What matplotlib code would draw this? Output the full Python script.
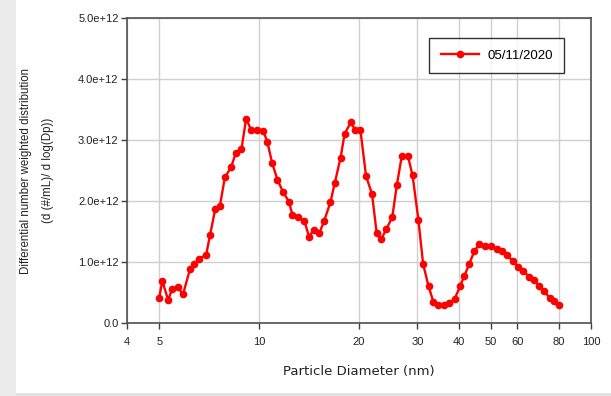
import matplotlib
matplotlib.use("Agg")
import matplotlib.pyplot as plt
from matplotlib.patches import Rectangle
from matplotlib.ticker import FixedLocator, FixedFormatter, NullLocator

plt.rcParams['font.family'] = ['Liberation Sans', 'DejaVu Sans']

diameter_nm = [5.0, 5.11, 5.32, 5.47, 5.68, 5.90, 6.19, 6.38, 6.59, 6.93,
               7.12, 7.38, 7.62, 7.89, 8.23, 8.50, 8.85, 9.14, 9.47, 9.84,
               10.3, 10.6, 10.95, 11.36, 11.8, 12.3, 12.6, 13.1, 13.7, 14.15,
               14.6, 15.2, 15.7, 16.4, 16.9, 17.6, 18.1, 18.9, 19.5, 20.2,
               21.0, 21.9, 22.6, 23.3, 24.2, 25.2, 26.0, 26.9, 28.1, 29.0,
               30.2, 31.2, 32.4, 33.5, 34.6, 36.1, 37.4, 38.8, 40.3, 41.5,
               43.0, 44.5, 46.1, 48.0, 50.1, 52.0, 53.9, 55.9, 58.1, 60.2,
               62.6, 64.9, 67.2, 69.7, 72.4, 75.0, 77.6, 80.3]
distribution_e12 = [0.41, 0.69, 0.38, 0.55, 0.59, 0.47, 0.88, 0.97, 1.05, 1.12,
                    1.45, 1.87, 1.92, 2.39, 2.55, 2.78, 2.85, 3.35, 3.16, 3.16,
                    3.15, 2.96, 2.62, 2.35, 2.15, 1.99, 1.77, 1.73, 1.67, 1.41,
                    1.53, 1.48, 1.67, 1.98, 2.29, 2.71, 3.10, 3.29, 3.16, 3.16,
                    2.41, 2.11, 1.48, 1.37, 1.54, 1.74, 2.26, 2.73, 2.73, 2.42,
                    1.69, 0.97, 0.60, 0.35, 0.30, 0.30, 0.33, 0.39, 0.60, 0.77,
                    0.97, 1.18, 1.29, 1.26, 1.26, 1.22, 1.18, 1.11, 1.02, 0.92,
                    0.86, 0.76, 0.71, 0.61, 0.52, 0.41, 0.36, 0.30]
series_label = "05/11/2020"

x_ticks = [4, 5, 10, 20, 30, 40, 50, 60, 80, 100]
x_tick_labels = ["4", "5", "10", "20", "30", "40", "50", "60", "80", "100"]
y_ticks = [0, 1e12, 2e12, 3e12, 4e12, 5e12]
y_tick_labels = ["0.0", "1.0e+12", "2.0e+12", "3.0e+12", "4.0e+12", "5.0e+12"]

fig = plt.figure(figsize=(6.11, 3.96), dpi=100, facecolor='#ebebeb')
fig.patches.append(Rectangle((16/611, 0.0), 1 - 16/611, 1.0,
                             transform=fig.transFigure, facecolor='white',
                             edgecolor='none', zorder=-1))
fig.patches.append(Rectangle((16/611, 0.0), 1 - 16/611, 3/396,
                             transform=fig.transFigure, facecolor='#e2e2e2',
                             edgecolor='none', zorder=-1))
ax = fig.add_axes([127/611, 1 - 323/396, 464/611, 305/396])
ax.set_facecolor('white')

yvals = [v * 1e12 for v in distribution_e12]
ax.plot(diameter_nm, yvals, color='#ff0000', linewidth=1.7, marker='o',
        markersize=4.5, markeredgecolor='#ff0000', label=series_label, zorder=3)

ax.set_xscale('log')
ax.set_xlim(4, 100)
ax.set_ylim(0, 5e12)
ax.xaxis.set_major_locator(FixedLocator(x_ticks))
ax.xaxis.set_major_formatter(FixedFormatter(x_tick_labels))
ax.xaxis.set_minor_locator(NullLocator())
ax.yaxis.set_major_locator(FixedLocator(y_ticks))
ax.yaxis.set_major_formatter(FixedFormatter(y_tick_labels))

ax.grid(True, color='#d0d0d0', linewidth=1.0)
ax.set_axisbelow(True)
for s in ax.spines.values():
    s.set_color('#505050')
    s.set_linewidth(1.2)

ax.tick_params(axis='both', direction='out', length=4, width=1, color='#404040',
               labelsize=8, labelcolor='#222222')
ax.tick_params(axis='x', pad=6)
ax.tick_params(axis='y', pad=2)

ax.set_xlabel("Particle Diameter (nm)", fontsize=9.5, labelpad=13, color='#222222',
              family=['DejaVu Sans'])
ax.set_ylabel("Differential number weighted distribution\n(d (#/mL)/ d log(Dp))",
              fontsize=8.3, labelpad=17, color='#222222', linespacing=2.15)

leg = ax.legend(loc='upper right', bbox_to_anchor=(0.942, 0.934), fontsize=9.5,
                fancybox=False, frameon=True, borderpad=0.85, handlelength=2.95,
                handletextpad=0.6, borderaxespad=0)
leg.get_frame().set_edgecolor('black')
leg.get_frame().set_linewidth(1.0)

fig.savefig("out.png", dpi=100, facecolor=fig.get_facecolor())
